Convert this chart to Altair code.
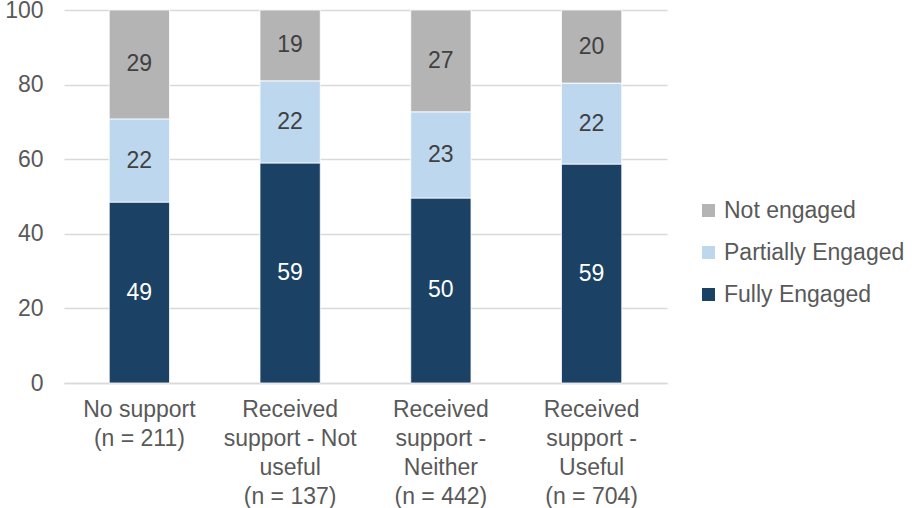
import altair as alt
import pandas as pd

categories = ["No support|(n = 211)", "Received|support - Not|useful|(n = 137)",
              "Received|support -|Neither|(n = 442)", "Received|support -|Useful|(n = 704)"]
series = ["Fully Engaged", "Partially Engaged", "Not engaged"]
fully = [48.5, 59.0, 49.6, 58.7]
partially = [22.3, 22.0, 23.1, 21.7]
not_engaged = [29.2, 19.0, 27.3, 19.6]
labels_fully = ["49", "59", "50", "59"]
labels_partially = ["22", "22", "23", "22"]
labels_not = ["29", "19", "27", "20"]
colors = ["#1B4264", "#BDD7EE", "#B4B4B4"]

rows = []
for i, c in enumerate(categories):
    for s, vals, labs, o in [("Fully Engaged", fully, labels_fully, 0),
                             ("Partially Engaged", partially, labels_partially, 1),
                             ("Not engaged", not_engaged, labels_not, 2)]:
        rows.append({"cat": c, "series": s, "value": vals[i], "label": labs[i], "ord": o})
df = pd.DataFrame(rows)

FONT = "Liberation Sans"
FS = 23
x = alt.X("cat:N", sort=categories, title=None,
          scale=alt.Scale(paddingInner=0.6, paddingOuter=0.3),
          axis=alt.Axis(labelExpr="split(datum.label, '|')", labelAngle=0,
                        labelFontSize=FS, labelColor="#595959", labelFont=FONT,
                        labelLineHeight=29, labelPadding=15, labelBaseline="top",
                        labelLimit=0, ticks=False, domainColor="#D9D9D9", domainWidth=1.5))

base = alt.Chart(df).transform_stack(
    stack="value", groupby=["cat"], as_=["y0", "y1"], sort=[alt.SortField("ord")]
).transform_calculate(mid="(datum.y0 + datum.y1) / 2")

bars = base.mark_bar(stroke="white", strokeWidth=0.8).encode(
    x=x,
    y=alt.Y("y0:Q", title=None,
            scale=alt.Scale(domain=[0, 100], nice=False, clamp=True),
            axis=alt.Axis(values=[0, 20, 40, 60, 80, 100], labelFontSize=FS,
                          labelColor="#595959", labelFont=FONT, labelPadding=21,
                          ticks=False, domain=False, gridColor="#D9D9D9", gridWidth=1.5)),
    y2="y1:Q",
    color=alt.Color("series:N", scale=alt.Scale(domain=["Not engaged", "Partially Engaged", "Fully Engaged"],
                                                range=[colors[2], colors[1], colors[0]]),
                    legend=alt.Legend(title=None, orient="none", legendX=633, legendY=189,
                                      symbolType="square", symbolSize=170, symbolStrokeWidth=0,
                                      labelFontSize=FS, labelFont=FONT, labelColor="#595959",
                                      labelLimit=0, rowPadding=18, labelOffset=4, padding=0)),
)

text = base.mark_text(fontSize=FS, font=FONT).encode(
    x=x,
    y=alt.Y("mid:Q"),
    text="label:N",
    color=alt.condition(alt.datum.series == "Fully Engaged", alt.value("white"), alt.value("#404040")),
)

chart = alt.layer(bars, text).properties(
    width=603, height=373,
    padding={"left": 64, "top": 10, "right": 248, "bottom": 125},
    autosize="none",
).configure_view(stroke=None)

chart.save("out.html", embed_options={"renderer": "svg", "actions": False})
